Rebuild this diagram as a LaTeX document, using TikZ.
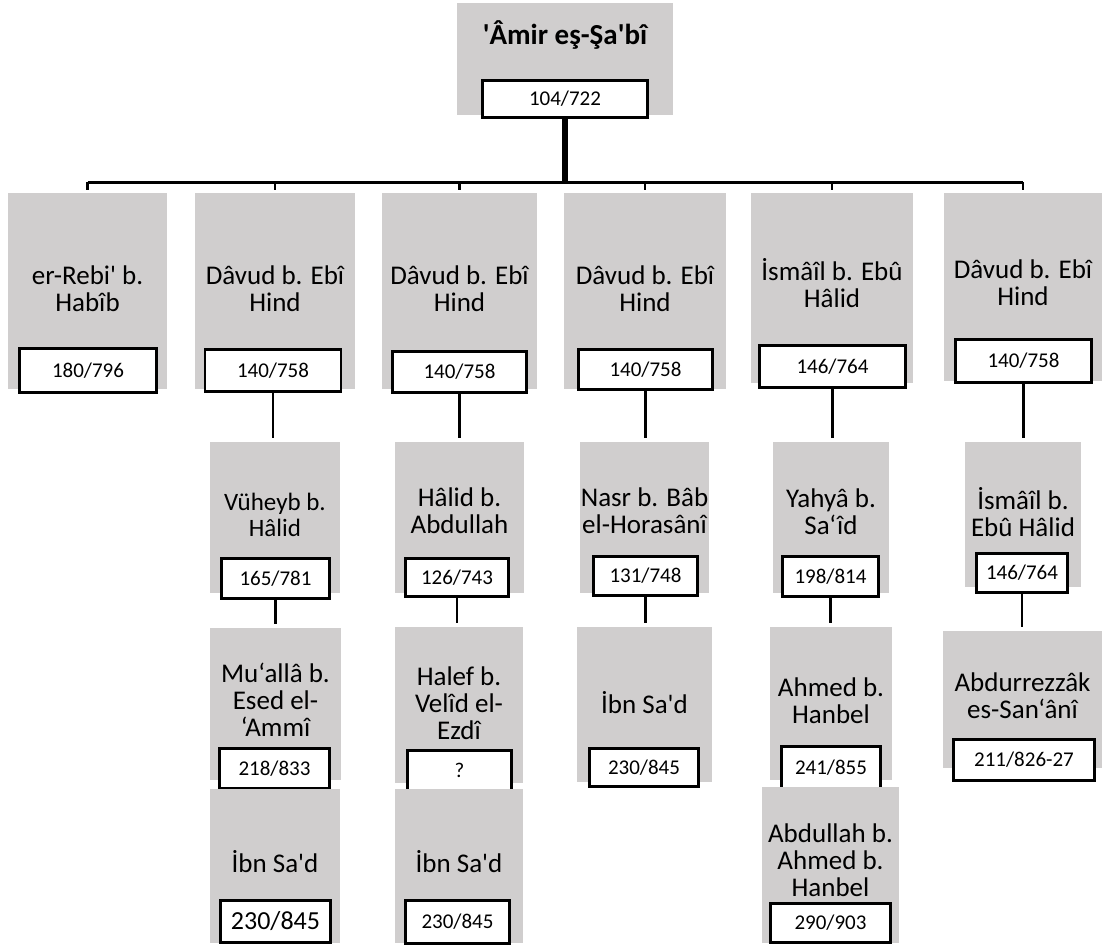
\documentclass[tikz,border=0pt]{standalone}
\usepackage{fontspec}
\setmainfont{Carlito}
\definecolor{ravigray}{RGB}{208,206,206}

\tikzset{
  ravi/.style 2 args={fill=ravigray, inner sep=0pt, minimum width=#1, minimum height=#2},
  isim/.style={align=center, inner sep=0pt, font=\fontsize{27}{27}\selectfont},
  tarih/.style 2 args={draw, line width=2.6pt, fill=white, inner sep=0pt,
    minimum width=#1, minimum height=#2, font=\fontsize{21}{24}\selectfont},
  hat/.style={line width=2.4pt},
}

\begin{document}
\begin{tikzpicture}[x=1pt,y=-1pt]
  \useasboundingbox (0,0) rectangle (1102,950);

  % top
  \node[ravi={216pt}{112pt}] (amir) at (565,59) {};
  \node[inner sep=0pt, font=\bfseries\fontsize{29}{32}\selectfont] (amir-isim) at (565,35)
    {\textquotesingle Âmir eş-Şa\textquotesingle bî};
  \node[tarih={165pt}{37pt}] (amir-t) at (565,99) {104/722};

  % first row
  \node[ravi={159pt}{196pt}] (rebi) at (87.5,291) {};
  \node[isim] (rebi-isim) at (87.5,289) {er-Rebi\textquotesingle{} b.\\Habîb};
  \node[tarih={137pt}{44pt}] (rebi-t) at (88,370.5) {180/796};

  \node[ravi={160pt}{196pt}] (davud1) at (275,291) {};
  \node[isim] (davud1-isim) at (275,289) {Dâvud b. Ebî\\Hind};
  \node[tarih={136pt}{42pt}] (davud1-t) at (273,370.5) {140/758};

  \node[ravi={155pt}{196pt}] (davud2) at (459.5,291) {};
  \node[isim] (davud2-isim) at (459.5,289) {Dâvud b. Ebî\\Hind};
  \node[tarih={134pt}{41pt}] (davud2-t) at (459.5,372) {140/758};

  \node[ravi={162pt}{196pt}] (davud3) at (645,291) {};
  \node[isim] (davud3-isim) at (645,289) {Dâvud b. Ebî\\Hind};
  \node[tarih={134pt}{40pt}] (davud3-t) at (645.5,369.5) {140/758};

  \node[ravi={162pt}{190pt}] (ismail1) at (832,288) {};
  \node[isim] (ismail1-isim) at (832,283) {İsmâîl b. Ebû\\Hâlid};
  \node[tarih={146pt}{42pt}] (ismail1-t) at (832.5,366.5) {146/764};

  \node[ravi={158pt}{188pt}] (davud4) at (1023,287) {};
  \node[isim] (davud4-isim) at (1023,283) {Dâvud b. Ebî\\Hind};
  \node[tarih={136pt}{43pt}] (davud4-t) at (1023.5,361) {140/758};

  % second row
  \node[ravi={130pt}{151pt}] (vuheyb) at (275,517.5) {};
  \node[isim, font=\fontsize{25}{26}\selectfont] (vuheyb-isim) at (275,515) {Vüheyb b.\\Hâlid};
  \node[tarih={108pt}{40pt}] (vuheyb-t) at (275.5,578.5) {165/781};

  \node[ravi={129pt}{151pt}] (halid) at (459.5,517.5) {};
  \node[isim] (halid-isim) at (459.5,511) {Hâlid b.\\Abdullah};
  \node[tarih={103pt}{38pt}] (halid-t) at (457,577.5) {126/743};

  \node[ravi={129pt}{151pt}] (nasr) at (644.5,517.5) {};
  \node[isim] (nasr-isim) at (644.5,511) {Nasr b. Bâb\\el-Horasânî};
  \node[tarih={104pt}{39pt}] (nasr-t) at (645.5,576) {131/748};

  \node[ravi={116pt}{151pt}] (yahya) at (831,517.5) {};
  \node[isim] (yahya-isim) at (831,512) {Yahyâ b.\\Sa‘îd};
  \node[tarih={96pt}{40pt}] (yahya-t) at (830.5,576.5) {198/814};

  \node[ravi={116pt}{145pt}] (ismail2) at (1023,514.5) {};
  \node[isim] (ismail2-isim) at (1023,512) {İsmâîl b.\\Ebû Hâlid};
  \node[tarih={91pt}{39pt}] (ismail2-t) at (1022,573) {146/764};

  % third row
  \node[ravi={131pt}{152pt}] (mualla) at (275.5,704) {};
  \node[isim] (mualla-isim) at (275.5,700) {Mu‘allâ b.\\Esed el-\\‘Ammî};
  \node[tarih={110pt}{40pt}] (mualla-t) at (274.5,768.5) {218/833};

  \node[ravi={128pt}{156pt}] (halef) at (459,705) {};
  \node[isim] (halef-isim) at (459,703) {Halef b.\\Velîd el-\\Ezdî};
  \node[tarih={104pt}{40pt}] (halef-t) at (459.5,770.5) {?};

  \node[ravi={135pt}{155pt}] (ibnsad3) at (644.5,704.5) {};
  \node[isim] (ibnsad3-isim) at (644.5,703) {İbn Sa\textquotesingle d};
  \node[tarih={109pt}{38pt}] (ibnsad3-t) at (644,767.5) {230/845};

  \node[ravi={122pt}{153pt}] (ahmed) at (831,703.5) {};
  \node[isim] (ahmed-isim) at (831,701) {Ahmed b.\\Hanbel};
  \node[tarih={99pt}{42pt}] (ahmed-t) at (831,767.5) {241/855};

  \node[ravi={159pt}{137pt}] (abdurrezzak) at (1022.5,699.5) {};
  \node[isim] (abdurrezzak-isim) at (1022.5,696) {Abdurrezzâk\\es-San‘ânî};
  \node[tarih={141pt}{41pt}] (abdurrezzak-t) at (1024,760) {211/826-27};

  % fourth row
  \node[ravi={130pt}{154pt}] (ibnsad1) at (275,866) {};
  \node[isim] (ibnsad1-isim) at (275,862) {İbn Sa\textquotesingle d};
  \node[tarih={110pt}{42pt}, font=\fontsize{26}{28}\selectfont] (ibnsad1-t) at (275.5,921.5) {230/845};

  \node[ravi={128pt}{154pt}] (ibnsad2) at (459,866) {};
  \node[isim] (ibnsad2-isim) at (459,862) {İbn Sa\textquotesingle d};
  \node[tarih={104pt}{43pt}] (ibnsad2-t) at (457.5,922) {230/845};

  \node[ravi={137pt}{156pt}] (abdullah) at (830.5,865) {};
  \node[isim] (abdullah-isim) at (830.5,860) {Abdullah b.\\Ahmed b.\\Hanbel};
  \node[tarih={120pt}{39pt}] (abdullah-t) at (830.5,923) {290/903};

  % lines
  \coordinate (bus) at (565,182);
  \draw[line width=6pt] (amir-t.south) -- (bus);
  \draw[line width=3pt] (rebi.north |- bus) -- (davud4.north |- bus);
  \draw[hat, shorten >=3pt] (rebi.north |- bus) -- (rebi.north);
  \draw[hat, shorten >=3pt] (davud1.north |- bus) -- (davud1.north);
  \draw[hat, shorten >=3pt] (davud2.north |- bus) -- (davud2.north);
  \draw[hat, shorten >=3pt] (davud3.north |- bus) -- (davud3.north);
  \draw[hat, shorten >=3pt] (ismail1.north |- bus) -- (ismail1.north);
  \draw[hat, shorten >=3pt] (davud4.north |- bus) -- (davud4.north);

  \draw[hat, shorten >=4pt] (davud1-t.south) -- (davud1-t.south |- vuheyb.north);
  \draw[hat, shorten >=4pt] (vuheyb-t.south) -- (vuheyb-t.south |- mualla.north);
  \draw[hat, shorten >=4pt] (davud2-t.south) -- (davud2-t.south |- halid.north);
  \draw[hat, shorten >=4pt] (halid-t.south) -- (halid-t.south |- halef.north);
  \draw[hat, shorten >=4pt] (davud3-t.south) -- (davud3-t.south |- nasr.north);
  \draw[hat, shorten >=4pt] (nasr-t.south) -- (nasr-t.south |- ibnsad3.north);
  \draw[hat, shorten >=4pt] (ismail1-t.south) -- (ismail1-t.south |- yahya.north);
  \draw[hat, shorten >=4pt] (yahya-t.south) -- (yahya-t.south |- ahmed.north);
  \draw[hat, shorten >=4pt] (davud4-t.south) -- (davud4-t.south |- ismail2.north);
  \draw[hat, shorten >=4pt] (ismail2-t.south) -- (ismail2-t.south |- abdurrezzak.north);
\end{tikzpicture}
\end{document}
